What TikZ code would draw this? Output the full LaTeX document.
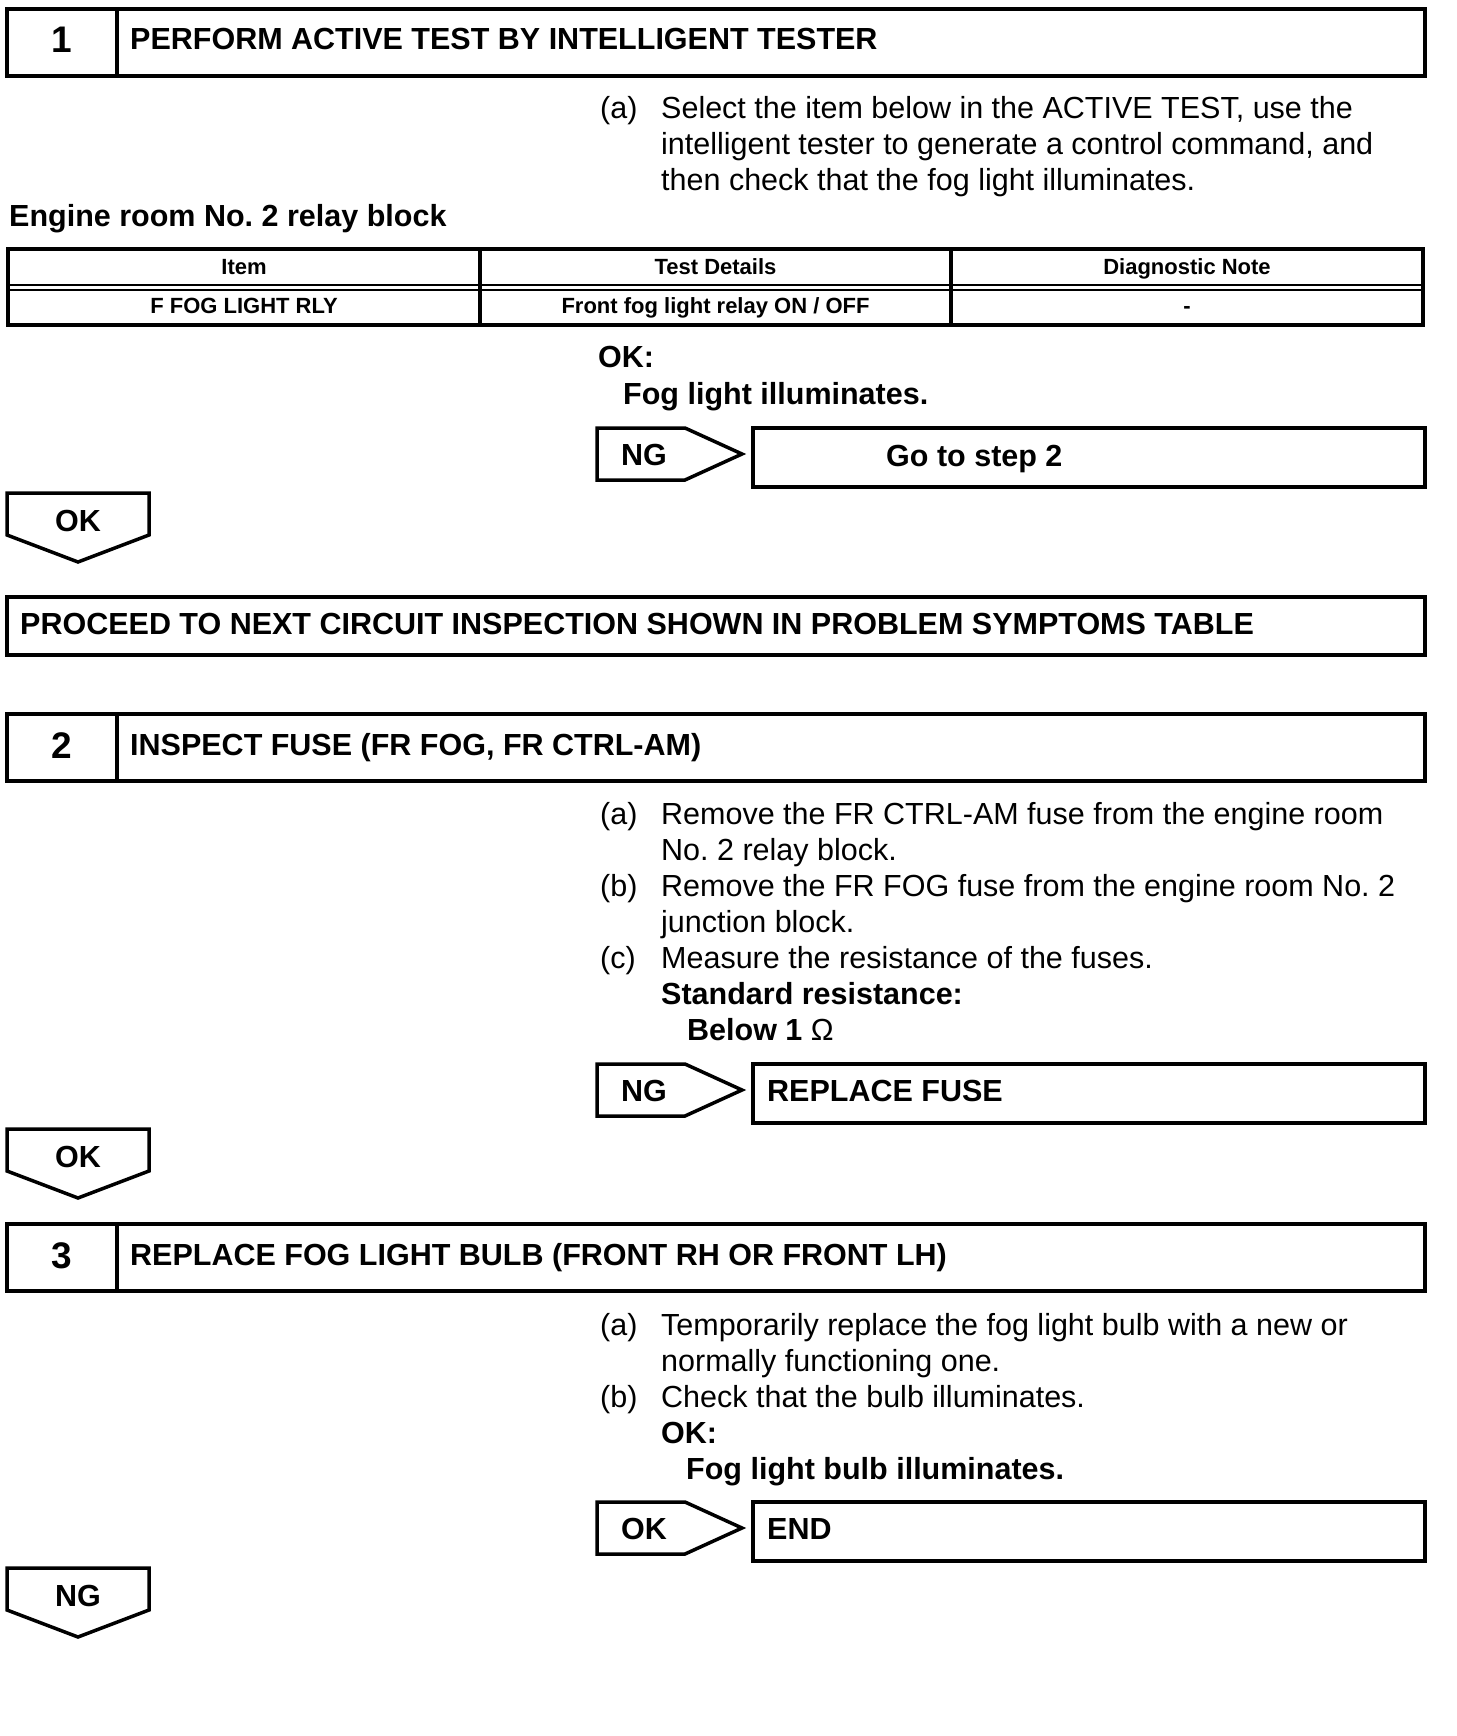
\documentclass[tikz,border=0pt]{standalone}
\usepackage{fontspec}
\setmainfont{Liberation Sans}
\frenchspacing
\begin{document}
\begin{tikzpicture}[x=1pt,y=-1pt,
  boxline/.style={line width=4pt, line join=miter},
  pent/.style={line width=3.5pt, line join=miter},
  tbl/.style={line width=3.2pt},
  dbl/.style={line width=2pt},
  txt/.style={anchor=base west, inner sep=0pt, font=\fontsize{30.5}{36}\selectfont},
  btxt/.style={anchor=base west, inner sep=0pt, font=\fontsize{30.5}{36}\selectfont\bfseries},
  ctxt/.style={anchor=base, inner sep=0pt, font=\fontsize{30.5}{36}\selectfont\bfseries},
  numtxt/.style={anchor=base, inner sep=0pt, font=\fontsize{37}{40}\selectfont\bfseries},
  tabtxt/.style={anchor=base, inner sep=0pt, font=\fontsize{22}{26}\selectfont\bfseries}]
\fill[white] (0,0) rectangle (1456,1736);
\useasboundingbox (0,0) rectangle (1456,1736);

% ---------- Step 1 ----------
\draw[boxline] (7,9.5) rectangle (1425,76);
\draw[boxline] (117,9.5) -- (117,76);
\node[numtxt] (n1) at (62,53) {1};
\node[btxt] (t1) at (130,50) {PERFORM ACTIVE TEST BY INTELLIGENT TESTER};

\node[txt] (s1a) at (600,119) {(a)};
\node[txt] (s1a1) at (661,119) {Select the item below in the ACTIVE TEST, use the};
\node[txt] (s1a2) at (661,155) {intelligent tester to generate a control command, and};
\node[txt] (s1a3) at (661,191) {then check that the fog light illuminates.};

\node[btxt] (eng) at (9,227) {Engine room No. 2 relay block};

% table
\draw[tbl] (8,249) rectangle (1423,325);
\draw[tbl] (480,249) -- (480,325);
\draw[tbl] (951,249) -- (951,325);
\draw[dbl] (8,285) -- (1423,285);
\draw[dbl] (8,289.5) -- (1423,289.5);
\node[tabtxt] (h1) at (244,274) {Item};
\node[tabtxt] (h2) at (715.5,274) {Test Details};
\node[tabtxt] (h3) at (1187,274) {Diagnostic Note};
\node[tabtxt] (r1) at (244,313) {F FOG LIGHT RLY};
\node[tabtxt] (r2) at (715.5,313) {Front fog light relay ON / OFF};
\node[tabtxt] (r3) at (1187,313) {-};

\node[btxt] (ok1) at (598,367) {OK:};
\node[btxt] (ok1b) at (623,404) {Fog light illuminates.};

\draw[pent] (597,428) -- (685,428) -- (742,454) -- (685,480) -- (597,480) -- cycle;
\node[ctxt] (ng1) at (644,465) {NG};
\draw[boxline] (753,428) rectangle (1425,487);
\node[btxt] (go2) at (886,466) {Go to step 2};

\draw[pent] (7,493) -- (149,493) -- (149,535) -- (78,562) -- (7,535) -- cycle;
\node[ctxt] (okd1) at (78,531) {OK};

\draw[boxline] (7,597) rectangle (1425,655);
\node[btxt] (proc) at (20,634) {PROCEED TO NEXT CIRCUIT INSPECTION SHOWN IN PROBLEM SYMPTOMS TABLE};

% ---------- Step 2 ----------
\draw[boxline] (7,714) rectangle (1425,781);
\draw[boxline] (117,714) -- (117,781);
\node[numtxt] (n2) at (62,758) {2};
\node[btxt] (t2) at (130,755) {INSPECT FUSE (FR FOG, FR CTRL-AM)};

\node[txt] (s2a) at (600,824) {(a)};
\node[txt] (s2a1) at (661,824) {Remove the FR CTRL-AM fuse from the engine room};
\node[txt] (s2a2) at (661,860) {No. 2 relay block.};
\node[txt] (s2b) at (600,896) {(b)};
\node[txt] (s2b1) at (661,896) {Remove the FR FOG fuse from the engine room No. 2};
\node[txt] (s2b2) at (661,932) {junction block.};
\node[txt] (s2c) at (600,968) {(c)};
\node[txt] (s2c1) at (661,968) {Measure the resistance of the fuses.};
\node[btxt] (s2std) at (661,1004) {Standard resistance:};
\node[btxt] (s2val) at (687,1040) {Below 1 {\mdseries Ω}};

\draw[pent] (597,1064) -- (685,1064) -- (742,1090) -- (685,1116) -- (597,1116) -- cycle;
\node[ctxt] (ng2) at (644,1101) {NG};
\draw[boxline] (753,1064) rectangle (1425,1123);
\node[btxt] (rep) at (767,1101) {REPLACE FUSE};

\draw[pent] (7,1129) -- (149,1129) -- (149,1171) -- (78,1198) -- (7,1171) -- cycle;
\node[ctxt] (okd2) at (78,1167) {OK};

% ---------- Step 3 ----------
\draw[boxline] (7,1224) rectangle (1425,1291);
\draw[boxline] (117,1224) -- (117,1291);
\node[numtxt] (n3) at (62,1268) {3};
\node[btxt] (t3) at (130,1265) {REPLACE FOG LIGHT BULB (FRONT RH OR FRONT LH)};

\node[txt] (s3a) at (600,1335) {(a)};
\node[txt] (s3a1) at (661,1335) {Temporarily replace the fog light bulb with a new or};
\node[txt] (s3a2) at (661,1371) {normally functioning one.};
\node[txt] (s3b) at (600,1407) {(b)};
\node[txt] (s3b1) at (661,1407) {Check that the bulb illuminates.};
\node[btxt] (ok3) at (661,1443) {OK:};
\node[btxt] (ok3b) at (686,1479) {Fog light bulb illuminates.};

\draw[pent] (597,1502) -- (685,1502) -- (742,1528) -- (685,1554) -- (597,1554) -- cycle;
\node[ctxt] (okr3) at (644,1539) {OK};
\draw[boxline] (753,1502) rectangle (1425,1561);
\node[btxt] (endn) at (767,1539) {END};

\draw[pent] (7,1568) -- (149,1568) -- (149,1610) -- (78,1637) -- (7,1610) -- cycle;
\node[ctxt] (ngd3) at (78,1606) {NG};
\end{tikzpicture}
\end{document}
